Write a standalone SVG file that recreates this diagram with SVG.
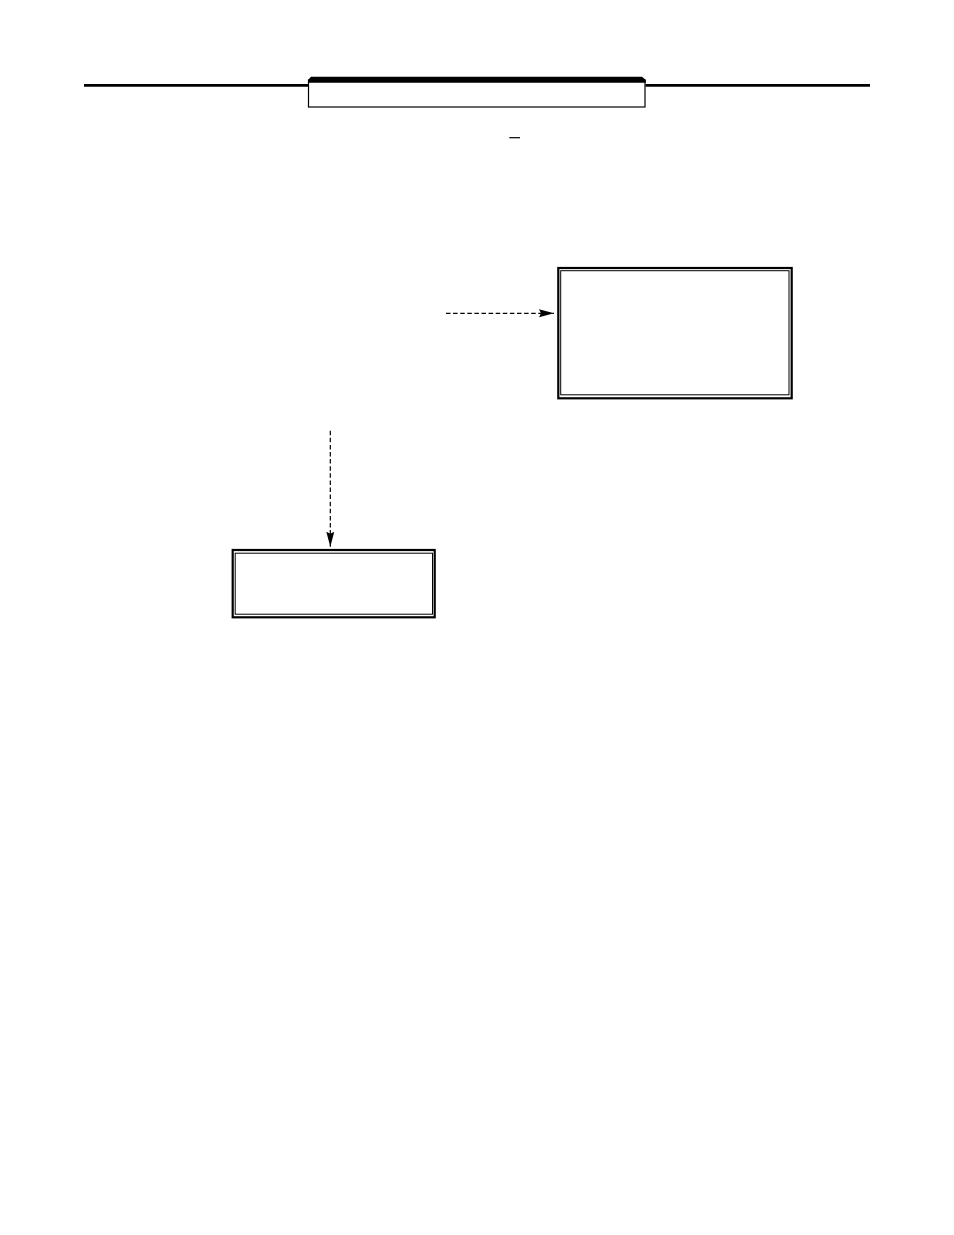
<svg xmlns="http://www.w3.org/2000/svg" width="954" height="1235" viewBox="0 0 954 1235">
<style>
.outer{fill:none;stroke:#000;stroke-width:2.2}
.inner{fill:none;stroke:#000;stroke-width:1}
.conn{fill:none;stroke:#000;stroke-width:1.2;stroke-dasharray:4.5 2.6}
</style>
<defs>
<marker id="ah" markerUnits="userSpaceOnUse" markerWidth="16" markerHeight="10" refX="15" refY="4" orient="auto">
<path d="M0,0 L15,4 L0,8 L2,4 Z" fill="#000"/>
</marker>
</defs>
<rect width="954" height="1235" fill="#fff"/>
<g id="header">
<line x1="84" y1="85.3" x2="308" y2="85.3" stroke="#000" stroke-width="2.7"/>
<line x1="645.5" y1="85.3" x2="870" y2="85.3" stroke="#000" stroke-width="2.7"/>
<rect x="308.5" y="80" width="336.5" height="27" fill="#fff" stroke="#000" stroke-width="1.2"/>
<path d="M308,82.7 L308,80 L311,76.7 L642,76.7 L645.8,80 L645.8,82.7 Z" fill="#000"/>
<line x1="509.3" y1="137.7" x2="520" y2="137.7" stroke="#000" stroke-width="1.2"/>
</g>
<g id="node-right">
<rect class="outer" x="558.3" y="268" width="233.4" height="130.3"/>
<rect class="inner" x="560.7" y="270.7" width="228.3" height="124.1"/>
</g>
<g id="node-bottom">
<rect class="outer" x="232.7" y="550" width="202" height="67.3"/>
<rect class="inner" x="235.2" y="553.2" width="197.3" height="61"/>
</g>
<g id="connectors">
<line class="conn" x1="446" y1="313.3" x2="554" y2="313.3" marker-end="url(#ah)"/>
<line class="conn" x1="330.3" y1="430.7" x2="330.3" y2="546.7" marker-end="url(#ah)"/>
</g>
</svg>
